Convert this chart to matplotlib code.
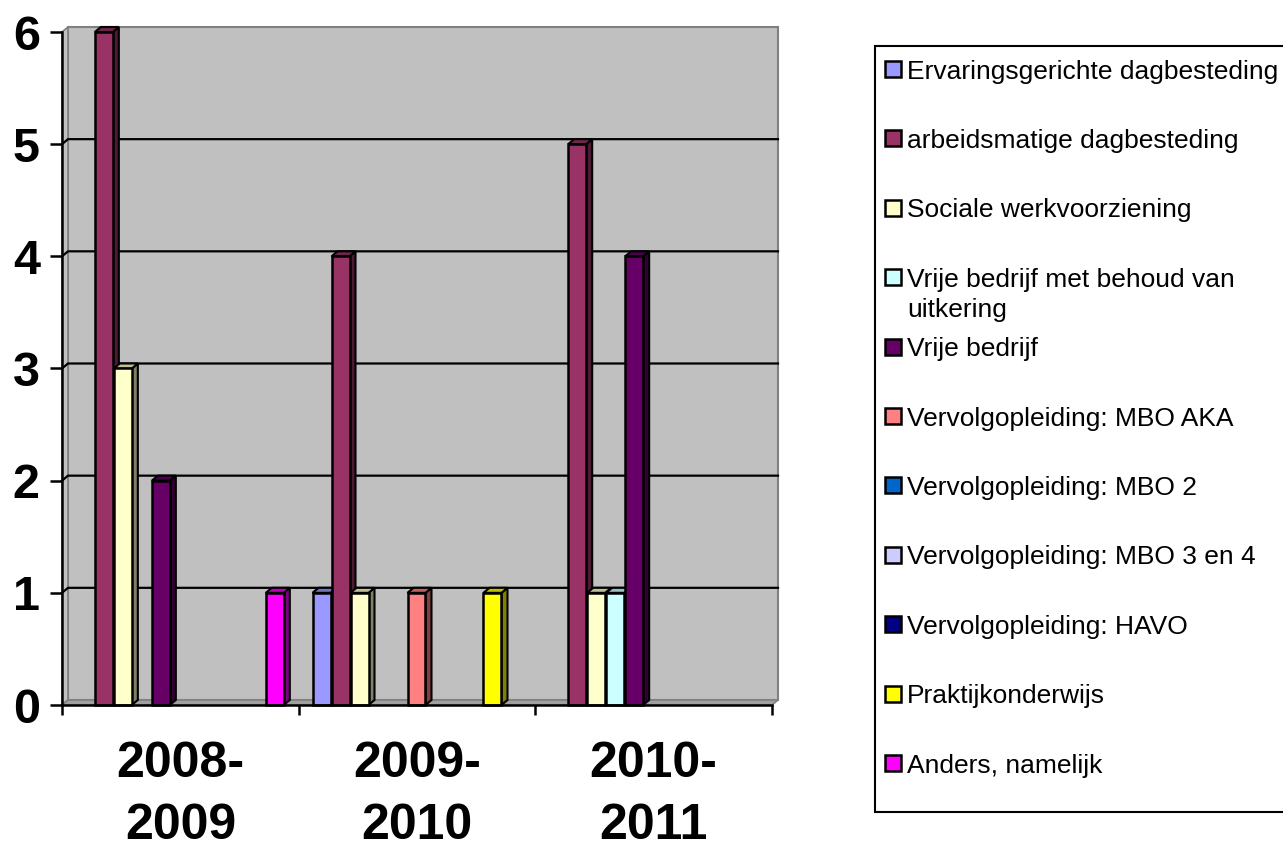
import numpy as np
import matplotlib
matplotlib.use("Agg")
import matplotlib.pyplot as plt
from matplotlib.patches import Polygon, Rectangle
from matplotlib.colors import to_rgb

plt.rcParams["font.family"] = ["Liberation Sans", "DejaVu Sans"]

categories = ["2008-\n2009", "2009-\n2010", "2010-\n2011"]
series_names = [
    "Ervaringsgerichte dagbesteding",
    "arbeidsmatige dagbesteding",
    "Sociale werkvoorziening",
    "Vrije bedrijf met behoud van\nuitkering",
    "Vrije bedrijf",
    "Vervolgopleiding: MBO AKA",
    "Vervolgopleiding: MBO 2",
    "Vervolgopleiding: MBO 3 en 4",
    "Vervolgopleiding: HAVO",
    "Praktijkonderwijs",
    "Anders, namelijk",
]
series_colors = ["#9999FF", "#993366", "#FFFFCC", "#CCFFFF", "#660066", "#FF8080",
                 "#0066CC", "#CCCCFF", "#000080", "#FFFF00", "#FF00FF"]
# values per series, one entry per category
values = [
    [0, 1, 0],
    [6, 4, 5],
    [3, 1, 1],
    [0, 0, 1],
    [2, 0, 4],
    [0, 1, 0],
    [0, 0, 0],
    [0, 0, 0],
    [0, 0, 0],
    [0, 1, 0],
    [1, 0, 0],
]
yticks = [0, 1, 2, 3, 4, 5, 6]

W, H = 1283, 847
fig = plt.figure(figsize=(W / 100, H / 100), dpi=100)
ax = fig.add_axes([62 / W, (H - 705) / H, 710 / W, 673 / H])
ax.set_xlim(-0.5, 2.5)
ax.set_ylim(0, 6)
ax.set_facecolor("none")

# 3D depth in data units
dx = 6 / 236.7
dy = 5 / 112.0

def shade(c, f):
    r, g, b = to_rgb(c)
    return (r * f, g * f, b * f)

# walls and floor
ax.add_patch(Rectangle((-0.5 + dx, dy), 3.0, 6.0, facecolor="#C0C0C0",
                       edgecolor="#808080", lw=1.5, zorder=0, clip_on=False))
ax.add_patch(Polygon([(-0.5, 0), (-0.5, 6), (-0.5 + dx, 6 + dy), (-0.5 + dx, dy)],
                     closed=True, facecolor="#C0C0C0", edgecolor="#808080",
                     lw=1.2, zorder=0.5, clip_on=False))
ax.add_patch(Polygon([(-0.5, 0), (2.5, 0), (2.5 + dx, dy), (-0.5 + dx, dy)],
                     closed=True, facecolor="#A0A0A0", edgecolor="#808080",
                     lw=1.2, zorder=0.5, clip_on=False))
for k in yticks[1:-1]:
    ax.plot([-0.5, -0.5 + dx, 2.5 + dx], [k, k + dy, k + dy], color="black",
            lw=1.6, zorder=1, clip_on=False, solid_joinstyle="miter")

n = len(series_names)
slot = 19 / 236.7
bw = 18 / 236.7
gap = (1 - n * slot) / 2
x = np.arange(len(categories))

for i, (name, col, vals) in enumerate(zip(series_names, series_colors, values)):
    left = x - 0.5 + gap + slot * i
    z = 2 + i
    for xl, v in zip(left, vals):
        if v == 0:
            continue
        ax.bar(xl, v, width=bw, align="edge", color=col, edgecolor="black",
               lw=1.8, zorder=z + 0.2, clip_on=False)
        side = [(xl + bw, 0), (xl + bw + dx, dy), (xl + bw + dx, v + dy), (xl + bw, v)]
        top = [(xl, v), (xl + bw, v), (xl + bw + dx, v + dy), (xl + dx, v + dy)]
        ax.add_patch(Polygon(side, closed=True, facecolor=shade(col, 0.5),
                             edgecolor="black", lw=1.5, zorder=z, clip_on=False))
        ax.add_patch(Polygon(top, closed=True, facecolor=shade(col, 0.75),
                             edgecolor="black", lw=1.5, zorder=z, clip_on=False))

for s in ["top", "right"]:
    ax.spines[s].set_visible(False)
for s in ["left", "bottom"]:
    ax.spines[s].set_linewidth(1.8)
    ax.spines[s].set_zorder(20)

ax.set_yticks(yticks)
ax.set_yticklabels([str(t) for t in yticks], fontsize=35, fontweight="bold")
ax.tick_params(axis="y", length=9, width=1.8, pad=7)

ax.set_xticks([-0.5, 0.5, 1.5, 2.5])
ax.set_xticklabels([])
ax.tick_params(axis="x", which="major", length=7, width=1.8)
ax.set_xticks(x, minor=True)
ax.set_xticklabels(categories, minor=True, fontsize=36, fontweight="bold",
                   linespacing=1.45)
ax.tick_params(axis="x", which="minor", length=0, pad=26)

# legend drawn by hand to keep the even Excel spacing
def fx(px):
    return px / W

def fy(py):
    return 1 - py / H

fig.patches.append(Rectangle((fx(875), fy(812)), fx(1290) - fx(875), fy(46) - fy(812),
                             transform=fig.transFigure, facecolor="white",
                             edgecolor="black", lw=1.5))
for i, (name, col) in enumerate(zip(series_names, series_colors)):
    yc = 69 + 69.4 * i
    fig.patches.append(Rectangle((fx(885), fy(yc + 8)), fx(16), 16 / H,
                                 transform=fig.transFigure, facecolor=col,
                                 edgecolor="black", lw=1.8))
    for j, line in enumerate(name.split("\n")):
        fig.text(fx(907), fy(yc + 30 * j), line, fontsize=19,
                 va="center_baseline", ha="left")

fig.savefig("out.png", dpi=100)
